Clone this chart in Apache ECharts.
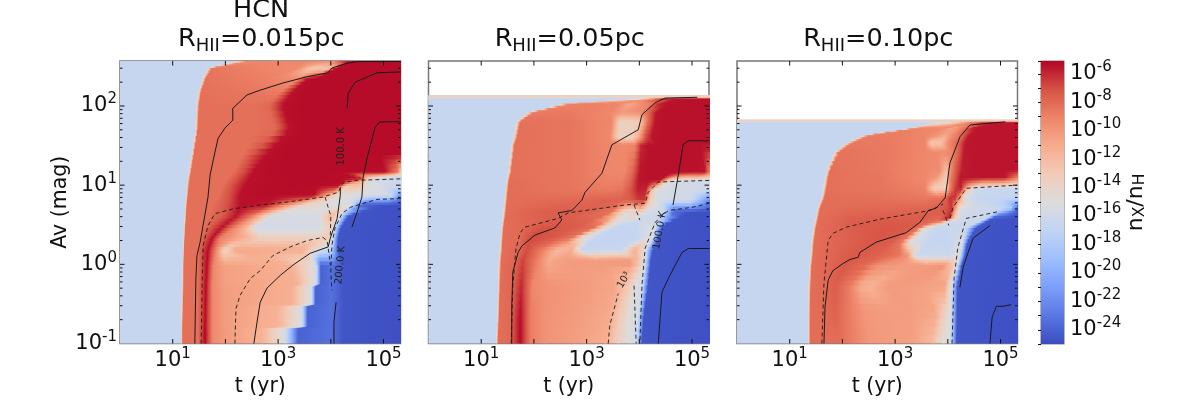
<!DOCTYPE html>
<html lang="en">
<head>
  <meta charset="UTF-8">
  <title>HCN</title>
  <script src="https://cdn.jsdelivr.net/npm/echarts@6/dist/echarts.min.js"></script>
  <style>body { margin: 0; background: #fff; } #app { width: 1196px; height: 407px; }</style>
</head>
<body>
  <div id="app"></div>
  <script>
    // every row: log10(Av), then node positions log10(t) and log10(nX/nH) at those nodes
    var p1Av = [2.57, 2.48, 2.35, 2.18, 2.01, 1.70, 1.38, 1.16, 1.09, 0.99, 0.87, 0.75, 0.62, 0.46, 0.33, 0.18, -0.01, -0.25, -0.28, -0.51, -0.53, -0.79, -0.81, -1]
    var p1T = [
      [0,2.18,2.47,3.42,4.08,4.27,4.40,4.52,4.63,4.75,4.86,4.97,5.16,5.33],
      [0,1.65,1.75,3.42,3.64,3.99,4.10,4.27,4.40,4.56,4.75,4.93,5.16,5.33],
      [0,1.56,1.63,2.85,3.38,3.57,3.76,3.99,4.18,4.37,4.65,4.93,5.16,5.33],
      [0,1.48,1.54,2.70,3.04,3.28,3.51,3.80,4.08,4.37,4.65,4.93,5.16,5.33],
      [0,1.44,1.50,2.56,2.81,3.09,3.42,3.80,4.08,4.37,4.65,4.93,5.16,5.33],
      [0,1.42,1.48,2.60,2.96,3.23,3.51,3.80,4.08,4.37,4.65,4.93,5.16,5.33],
      [0,1.35,1.40,2.33,2.51,2.77,3.13,3.51,3.89,4.27,4.65,4.93,5.16,5.33],
      [0,1.29,1.35,2.13,2.33,2.52,3.04,3.42,3.80,4.18,4.56,5.03,5.28,5.33],
      [0,1.27,1.33,2.05,2.24,2.47,3.23,3.80,4.27,4.59,4.71,4.84,5.03,5.33],
      [0,1.25,1.31,1.94,2.13,2.37,3.23,3.70,4.14,4.29,4.52,4.67,4.90,5.33],
      [0,1.25,1.29,1.86,2.09,2.28,2.94,3.70,3.95,4.14,4.37,4.84,5.16,5.33],
      [0,1.23,1.27,1.75,2.05,2.28,2.81,3.23,3.51,3.89,4.40,4.59,5.03,5.33],
      [0,1.22,1.26,1.67,1.94,2.22,2.51,2.70,2.94,3.76,3.99,4.18,4.35,5.33],
      [0,1.21,1.24,1.58,1.75,1.92,2.13,2.37,2.56,3.76,3.99,4.08,4.19,5.33],
      [0,1.20,1.23,1.52,1.63,1.75,1.90,2.28,2.70,3.76,3.95,4.04,4.14,5.33],
      [0,1.19,1.22,1.48,1.59,1.67,1.82,1.97,2.13,3.42,3.76,4.00,4.14,5.33],
      [0,1.18,1.21,1.48,1.58,1.65,1.78,1.99,3.23,3.72,3.81,4.02,4.23,5.33],
      [0,1.17,1.21,1.48,1.58,1.63,1.76,1.99,3.36,3.72,3.81,4.02,4.23,5.33],
      [0,1.17,1.21,1.48,1.58,1.63,1.76,1.99,3.26,3.63,3.71,4.02,4.23,5.33],
      [0,1.16,1.20,1.48,1.58,1.62,1.76,1.99,3.26,3.63,3.71,4.02,4.23,5.33],
      [0,1.16,1.20,1.48,1.58,1.62,1.76,1.99,3.00,3.45,3.56,4.02,4.23,5.33],
      [0,1.15,1.19,1.48,1.57,1.61,1.76,1.99,3.00,3.45,3.56,4.00,4.23,5.33],
      [0,1.15,1.19,1.48,1.57,1.61,1.76,1.99,2.70,3.13,3.38,4.00,4.23,5.33],
      [0,1.15,1.19,1.48,1.57,1.61,1.76,1.99,2.70,3.13,3.38,4.00,4.23,5.33]
    ]
    var p1V = [
      [-16.6,-16.6,-9.3,-9.2,-9.5,-5.4,-5.3,-5.3,-5.3,-5.3,-5.3,-5.3,-5.3,-5.3],
      [-16.6,-16.6,-8.5,-9.5,-13,-13,-5.4,-5.3,-5.3,-5.3,-5.3,-5.3,-5.3,-5.3],
      [-16.6,-16.6,-8.4,-9,-9.5,-5.4,-5.3,-5.3,-5.3,-5.3,-5.3,-5.3,-5.3,-5.3],
      [-16.6,-16.6,-8.3,-8.6,-8.8,-5.4,-5.3,-5.3,-5.3,-5.3,-5.3,-5.3,-5.3,-5.3],
      [-16.6,-16.6,-8.3,-8.3,-8,-5.4,-5.3,-5.3,-5.3,-5.3,-5.3,-5.3,-5.3,-5.3],
      [-16.6,-16.6,-8.3,-8.3,-8,-5.4,-5.3,-5.3,-5.3,-5.3,-5.3,-5.3,-5.3,-5.3],
      [-16.6,-16.6,-8.3,-8.3,-7,-5.4,-5.3,-5.3,-5.3,-5.3,-5.3,-5.3,-5.3,-5.3],
      [-16.6,-16.6,-8.3,-8.3,-7,-5.4,-5.3,-5.3,-5.3,-5.3,-5.3,-5.4,-9,-13],
      [-16.6,-16.6,-8.3,-8.3,-7,-5.4,-5.3,-5.3,-5.3,-5.4,-13,-15.5,-16.2,-16.5],
      [-16.6,-16.6,-8.3,-8.3,-7,-5.4,-5.3,-5.3,-5.4,-13,-12,-15,-15.5,-16.2],
      [-16.6,-16.6,-8.3,-8.3,-7,-5.4,-5.3,-5.4,-11,-15,-15.2,-15.6,-16,-22],
      [-16.6,-16.6,-8.3,-8.3,-7,-5.4,-5.6,-10.5,-14,-14.7,-15.5,-24.6,-24.8,-24.8],
      [-16.6,-16.6,-8.3,-8.3,-7.5,-5.5,-8.5,-12,-15.5,-15.5,-11.5,-15.5,-24.6,-24.8],
      [-16.6,-16.6,-8.3,-8.3,-7,-5.5,-8.7,-11.5,-15.8,-15.8,-13.5,-16,-24.6,-24.8],
      [-16.6,-16.6,-8.3,-8.3,-7,-5.4,-9,-10.8,-13.5,-13.5,-13,-16,-24.6,-24.8],
      [-16.6,-16.6,-8.3,-8.3,-6.5,-5.3,-9,-14,-10.8,-11,-15,-16.8,-24.6,-24.8],
      [-16.6,-16.6,-8.3,-8.3,-6.5,-5.2,-9.3,-10.5,-11.3,-15.5,-24,-23.3,-24.6,-24.8],
      [-16.6,-16.6,-8.3,-8.3,-6.5,-5.2,-9.3,-10.4,-11.3,-15.5,-24,-23.3,-24.6,-24.8],
      [-16.6,-16.6,-8.3,-8.3,-6.3,-5.2,-9.3,-10.3,-11.3,-15.5,-24,-23.3,-24.6,-24.8],
      [-16.6,-16.6,-8.3,-8.3,-6.3,-5.2,-9.3,-10.3,-11.3,-15.5,-24,-23.3,-24.6,-24.8],
      [-16.6,-16.6,-8.3,-8.3,-6.3,-5.2,-9.3,-10.3,-11.5,-15.5,-24,-23.3,-24.6,-24.8],
      [-16.6,-16.6,-8.3,-8.3,-6.3,-5.2,-9.3,-10.3,-11.5,-15.5,-24,-23.3,-24.6,-24.8],
      [-16.6,-16.6,-8.3,-8.3,-6.3,-5.1,-9.3,-10.2,-11.5,-15.5,-24,-23.3,-24.6,-24.8],
      [-16.6,-16.6,-8.3,-8.3,-6.3,-5.1,-9.3,-10.2,-11.5,-15.5,-24,-23.3,-24.6,-24.8]
    ]

    var p2Av = [2.14, 2.11, 2.09, 2.03, 1.92, 1.80, 1.60, 1.51, 1.16, 1.06, 0.94, 0.81, 0.66, 0.49, 0.33, 0.18, 0.05, -0.27, -0.65, -1]
    var p2T = [
      [0,3.82,4.11,4.20,4.30,4.39,4.49,4.62,4.77,4.87,4.96,5.06,5.15,5.33],
      [0,3.82,4.11,4.20,4.30,4.39,4.49,4.62,4.77,4.87,4.96,5.06,5.15,5.33],
      [0,3.82,4.11,4.20,4.30,4.39,4.49,4.62,4.77,4.87,4.96,5.06,5.15,5.33],
      [0,2.53,2.72,3.25,3.63,3.82,4.05,4.20,4.39,4.58,4.77,4.96,5.15,5.33],
      [0,1.87,2.00,2.69,3.44,3.67,3.86,4.01,4.17,4.32,4.58,4.87,5.15,5.33],
      [0,1.66,1.74,2.69,3.48,3.63,3.86,4.01,4.17,4.30,4.58,4.87,5.15,5.33],
      [0,1.60,1.68,2.69,3.44,3.60,3.86,3.98,4.11,4.24,4.58,4.87,5.15,5.33],
      [0,1.57,1.63,2.69,3.44,3.73,3.92,4.03,4.17,4.39,4.62,4.87,5.15,5.33],
      [0,1.50,1.57,2.69,3.44,3.73,3.86,4.01,4.17,4.58,4.87,5.06,5.25,5.33],
      [0,1.47,1.53,2.69,3.44,3.67,3.82,3.98,4.17,4.39,4.55,4.77,5.06,5.33],
      [0,1.45,1.51,2.69,3.35,3.67,3.82,3.98,4.13,4.24,4.36,4.58,4.96,5.33],
      [0,1.43,1.49,2.69,3.35,3.63,3.82,3.98,4.09,4.20,4.32,4.58,4.96,5.33],
      [0,1.41,1.47,2.21,3.07,3.48,3.67,3.82,3.98,4.17,4.49,4.68,4.96,5.33],
      [0,1.38,1.43,1.74,2.21,2.88,3.20,3.41,3.63,3.94,4.17,4.30,4.45,5.33],
      [0,1.36,1.41,1.74,1.93,2.40,2.69,2.88,3.16,3.94,4.13,4.24,4.36,5.33],
      [0,1.34,1.40,1.74,1.87,2.15,2.46,2.72,2.88,3.63,3.90,4.11,4.26,5.33],
      [0,1.32,1.38,1.64,1.79,2.08,2.27,2.59,3.25,3.82,3.98,4.11,4.22,5.33],
      [0,1.31,1.36,1.58,1.76,1.98,2.31,3.07,3.54,3.79,3.94,4.05,4.17,5.33],
      [0,1.30,1.34,1.55,1.74,1.93,2.21,2.88,3.44,3.67,3.86,3.98,4.09,5.33],
      [0,1.27,1.32,1.55,1.74,1.93,2.21,2.78,3.35,3.60,3.82,3.94,4.05,5.33]
    ]
    var p2V = [
      [-13.3,-13.3,-13.3,-13.3,-13.3,-13.3,-13.3,-13.3,-13.3,-13.3,-13.3,-13.3,-13.3,-13.3],
      [-13.8,-13.8,-13.8,-13.8,-13.8,-13.8,-13.8,-13.8,-13.8,-13.8,-13.8,-13.8,-13.8,-13.8],
      [-16.6,-16.6,-15,-11,-9.5,-7,-5.8,-5.4,-5.4,-5.4,-5.4,-5.4,-5.4,-5.4],
      [-16.6,-16.6,-9,-9,-9.2,-11,-9.5,-9,-5.6,-5.4,-5.4,-5.4,-5.4,-5.4],
      [-16.6,-16.6,-8.7,-8.7,-9.2,-10,-9.8,-9.5,-8,-5.5,-5.4,-5.4,-5.4,-5.4],
      [-16.6,-16.6,-8.3,-8.5,-9.3,-13.5,-13.5,-13,-8,-5.5,-5.4,-5.4,-5.4,-5.4],
      [-16.6,-16.6,-8.3,-8.5,-9.3,-13.5,-13.5,-11,-7,-5.5,-5.4,-5.4,-5.4,-5.4],
      [-16.6,-16.6,-8.3,-8.5,-9.2,-9.3,-9,-6,-5.4,-5.4,-5.4,-5.4,-5.4,-5.4],
      [-16.6,-16.6,-8.3,-8.5,-9.2,-9.2,-8,-5.5,-5.4,-5.4,-5.4,-5.4,-5.5,-9],
      [-16.6,-16.6,-8.2,-8.5,-9,-9,-8,-5.6,-5.4,-5.5,-14,-15.8,-15.8,-15.8],
      [-16.6,-16.6,-8.2,-8.5,-8.7,-8.5,-7.3,-5.7,-6,-13,-15.5,-15.8,-15.8,-16.3],
      [-16.6,-16.6,-8.2,-8,-7.7,-7.7,-7.5,-6.5,-6.3,-13,-15.5,-15.8,-15.8,-22],
      [-16.6,-16.6,-8.2,-7.5,-7.7,-8.5,-13.5,-15.5,-13,-15.7,-16.3,-24.6,-24.8,-24.8],
      [-16.6,-16.6,-8.2,-8,-7.2,-7.5,-8.2,-14,-16.7,-16.6,-15.5,-15,-24.6,-24.8],
      [-16.6,-16.6,-8.2,-8,-6.8,-7.5,-8.5,-14,-16.8,-16.7,-15.5,-15,-24.6,-24.8],
      [-16.6,-16.6,-8.2,-7.8,-7,-8.8,-12,-11,-16.6,-16.6,-11,-15,-24.6,-24.8],
      [-16.6,-16.6,-8.2,-7.8,-6.7,-9,-11,-10.2,-10.2,-9.8,-12,-15.5,-24.6,-24.8],
      [-16.6,-16.6,-8.2,-7.9,-6,-9.3,-9.8,-10.3,-10.8,-13,-15.3,-15.8,-24.6,-24.8],
      [-16.6,-16.6,-8.2,-8,-5.3,-8.7,-9.8,-10.3,-11,-13.5,-15.3,-15.8,-24.6,-24.8],
      [-16.6,-16.6,-8.2,-8,-5.2,-8.7,-9.8,-10.4,-11.2,-13.5,-15.3,-15.8,-24.6,-24.8]
    ]

    var p3Av = [1.83, 1.81, 1.79, 1.72, 1.63, 1.53, 1.42, 1.19, 1.09, 0.96, 0.84, 0.71, 0.58, 0.46, 0.27, 0.11, -0.01, -0.27, -0.58, -1]
    var p3T = [
      [0,3.66,4.04,4.23,4.42,4.61,4.71,4.80,4.90,4.99,5.09,5.18,5.24,5.33],
      [0,3.66,4.04,4.23,4.42,4.61,4.71,4.80,4.90,4.99,5.09,5.18,5.24,5.33],
      [0,3.66,4.04,4.23,4.42,4.61,4.71,4.80,4.90,4.99,5.09,5.18,5.24,5.33],
      [0,3.25,3.40,3.76,3.95,4.08,4.19,4.35,4.46,4.61,4.80,4.99,5.18,5.33],
      [0,2.37,2.52,3.09,3.57,3.76,3.95,4.08,4.27,4.40,4.61,4.80,5.05,5.33],
      [0,2.05,2.18,2.90,3.57,3.68,3.87,4.00,4.18,4.33,4.61,4.80,5.05,5.33],
      [0,1.84,1.94,2.90,3.57,3.76,3.95,4.08,4.18,4.31,4.61,4.80,5.05,5.33],
      [0,1.69,1.77,2.71,3.57,3.85,3.97,4.08,4.14,4.27,4.52,4.80,5.05,5.33],
      [0,1.66,1.73,2.71,3.57,3.78,3.97,4.04,4.14,4.23,4.52,4.80,5.09,5.33],
      [0,1.63,1.70,2.71,3.57,3.72,3.97,4.04,4.14,4.25,4.37,4.52,4.90,5.33],
      [0,1.59,1.66,2.71,3.57,3.85,3.97,4.04,4.14,4.21,4.31,4.52,4.90,5.33],
      [0,1.52,1.58,2.52,3.57,3.85,3.99,4.08,4.16,4.23,4.52,4.99,5.22,5.33],
      [0,1.48,1.54,2.14,3.09,3.57,3.85,4.02,4.14,4.27,4.57,4.73,4.84,5.33],
      [0,1.44,1.50,2.33,2.90,3.28,3.44,3.57,3.76,3.95,4.14,4.33,4.54,5.33],
      [0,1.40,1.46,1.95,2.52,2.90,3.09,3.28,3.66,4.04,4.19,4.27,4.37,5.33],
      [0,1.39,1.44,1.86,2.24,2.71,3.09,3.25,3.38,4.04,4.16,4.23,4.33,5.33],
      [0,1.37,1.42,1.77,2.05,2.43,2.71,3.19,3.66,3.95,4.08,4.18,4.27,5.33],
      [0,1.35,1.40,1.67,1.86,2.14,2.33,2.49,2.81,3.47,3.93,4.06,4.19,5.33],
      [0,1.34,1.39,1.67,1.86,2.14,2.43,2.71,3.28,3.76,3.95,4.06,4.18,5.33],
      [0,1.34,1.39,1.67,1.95,2.24,2.52,2.81,3.38,3.70,3.91,4.04,4.17,5.33]
    ]
    var p3V = [
      [-13.3,-13.3,-13.3,-13.3,-13.3,-13.3,-13.3,-13.3,-13.3,-13.3,-13.3,-13.3,-13.3,-13.3],
      [-13.8,-13.8,-13.8,-13.8,-13.8,-13.8,-13.8,-13.8,-13.8,-13.8,-13.8,-13.8,-13.8,-13.8],
      [-16.6,-16.6,-15,-12,-9,-7,-5.9,-5.7,-5.6,-5.5,-5.5,-5.5,-5.5,-5.5],
      [-16.6,-16.6,-8.9,-9.2,-9.5,-11,-9.5,-8,-5.6,-5.5,-5.5,-5.5,-5.5,-5.5],
      [-16.6,-16.6,-8.7,-8.8,-9.2,-9.4,-11,-9.5,-8,-5.6,-5.5,-5.5,-5.5,-5.5],
      [-16.6,-16.6,-8.6,-8.7,-9.2,-13,-12.5,-9.3,-8,-5.6,-5.5,-5.5,-5.5,-5.5],
      [-16.6,-16.6,-8.4,-8.7,-9.2,-9.3,-9.3,-9,-8,-5.6,-5.5,-5.5,-5.5,-5.5],
      [-16.6,-16.6,-8.3,-8.6,-9.3,-9.5,-12,-9,-7.5,-5.7,-5.5,-5.5,-5.5,-5.5],
      [-16.6,-16.6,-8.3,-8.5,-9.3,-10,-13.3,-9,-7.3,-5.6,-5.5,-5.5,-5.5,-9],
      [-16.6,-16.6,-8.3,-8.5,-9,-13.3,-13.5,-9,-6.5,-5.6,-12,-16,-16.5,-16.5],
      [-16.6,-16.6,-8.2,-8.3,-8.6,-8.4,-7.5,-6.2,-6.2,-9,-15.5,-16.5,-16.6,-16.6],
      [-16.6,-16.6,-8.2,-8,-7.9,-7.6,-7,-6.3,-11,-15.5,-16,-16.5,-18,-24.5],
      [-16.6,-16.6,-8.2,-7.6,-7.5,-7.6,-8,-5.8,-14,-16,-16,-16.8,-24.6,-24.8],
      [-16.6,-16.6,-8.2,-7.4,-7.2,-7.4,-8.5,-15,-16.6,-16.4,-16.6,-15.8,-24.6,-24.8],
      [-16.6,-16.6,-8.2,-7.8,-7.3,-7.5,-8.5,-15,-16.7,-16.7,-15.6,-15.5,-24.6,-24.8],
      [-16.6,-16.6,-8.2,-7.8,-7.3,-7.8,-8.5,-10,-16.3,-16.3,-15,-15.5,-24.6,-24.8],
      [-16.6,-16.6,-8.2,-7.8,-7.4,-8,-9.7,-10.2,-10.2,-9.9,-12.5,-15.5,-24.6,-24.8],
      [-16.6,-16.6,-8.2,-8,-7.5,-8.8,-11,-11.5,-10.2,-10.4,-10.5,-15,-24.6,-24.8],
      [-16.6,-16.6,-8.2,-8,-7.7,-8.8,-10,-10.2,-10.3,-10.8,-13.5,-15.3,-24.6,-24.8],
      [-16.6,-16.6,-8.2,-8.2,-8.2,-9,-10,-10.2,-10.5,-12,-15,-15.3,-24.6,-24.8]
    ]

    // contours as [log10 t, log10 Av]
    var p1Solid = [
      [[1.42,-1],[1.44,-.18],[1.46,.11],[1.52,.28],[1.61,.62],[1.67,.85],[1.71,1.13],[1.77,1.32],[1.86,1.59],[1.99,1.72],[2.14,1.82],[2.14,1.97],[2.41,2.14],[2.66,2.2],[3.09,2.29],[3.55,2.37],[3.95,2.42],[4.02,2.48],[4.31,2.54],[4.5,2.56],[5.33,2.56]],
      [[4.31,1.97],[4.33,2.16],[4.46,2.3],[4.88,2.42],[5.33,2.43]],
      [[4.18,.97],[4.18,.87],[4.12,.58],[3.99,.33],[3.95,.22],[3.61,.14],[3.28,-.01],[3.04,-.14],[2.79,-.3],[2.66,-.48],[2.6,-.73],[2.54,-1]],
      [[5.33,1.8],[4.93,1.8],[4.84,1.73],[4.69,1.35],[4.61,1.09],[4.59,.85],[4.5,.66],[4.4,.47]],
      [[4.1,-.48],[4.06,-.73],[4.06,-1]]
    ]
    var p1Dashed = [
      [[1.54,-1],[1.56,-.18],[1.58,.24],[1.67,.49],[1.8,.64],[2.14,.7],[2.66,.75],[3.09,.78],[3.85,.85],[4.14,.91],[4.23,1.03],[4.46,1.06],[5.33,1.08]],
      [[2.18,-1],[2.2,-.56],[2.28,-.39],[2.47,-.18],[2.66,-.08],[2.9,.11],[3.23,.22],[3.55,.3],[3.85,.34],[3.93,.3],[3.97,.11],[3.99,-.01]],
      [[5.33,.83],[4.88,.82],[4.61,.77],[4.37,.72],[4.21,.64],[4.08,.46],[4.02,.24],[4,-.1],[4.02,-.33]],
      [[3.89,.85],[4,.61],[3.99,.34]]
    ]
    var p2Solid = [
      [[1.58,-1],[1.58,-.52],[1.6,-.1],[1.7,.15],[1.77,.23],[2.02,.37],[2.4,.46],[2.53,.56],[2.46,.65],[2.72,.68],[2.91,.81],[2.97,.91],[3.29,1.15],[3.39,1.34],[3.48,1.51],[3.98,1.7],[4.05,1.89],[4.3,2.04],[4.49,2.1],[5.1,2.11]],
      [[5.33,1.56],[4.93,1.56],[4.83,1.51],[4.74,1.13],[4.64,.75]],
      [[5.33,.2],[4.93,.2],[4.81,.15],[4.58,-.14],[4.43,-.35],[4.36,-1]]
    ]
    var p2Dashed = [
      [[1.57,-1],[1.6,-.27],[1.66,.2],[1.74,.4],[1.83,.47],[2.46,.58],[2.65,.65],[3.73,.75],[4.11,.77],[4.17,.91],[4.36,1.04],[5.33,1.06]],
      [[3.9,.75],[4.01,.56]],
      [[3.41,-1],[3.44,-.77],[3.6,-.37]],
      [[3.9,-.27],[3.94,-1]],
      [[5.33,.77],[5,.72],[4.55,.68],[4.3,.53],[4.11,.2],[4.05,-.27],[4.01,-1]]
    ]
    var p3Solid = [
      [[1.65,-1],[1.67,-.54],[1.73,-.2],[1.82,-.08],[2.01,.01],[2.14,.06],[2.3,.09],[2.33,.15],[2.64,.28],[3.21,.4],[3.47,.53],[3.63,.68],[3.78,.71],[3.95,.84],[4.04,1.28],[4.23,1.61],[4.42,1.76],[5.09,1.8]],
      [[4.23,-.29],[4.29,-.04],[4.38,.14],[4.48,.33],[4.8,.49]],
      [[4.8,-1],[4.84,-.67],[4.92,-.53],[5.05,-.53],[5.2,-.51]]
    ]
    var p3Dashed = [
      [[1.61,-1],[1.65,-.24],[1.73,.3],[1.82,.39],[2.07,.47],[2.71,.57],[3.66,.68],[3.91,.76]],
      [[3.91,.68],[4.02,.49]],
      [[4.04,.58],[4.1,.72],[4.35,.96],[5.31,1]],
      [[4.08,-1],[4.12,-.17],[4.19,.21],[4.35,.58],[4.99,.67]]
    ]
    var p1Labels = [[4.21, 1.49, '100.0 K', 90], [4.18, -0.01, '200.0 K', 85]]
    var p2Labels = [[4.39, 0.43, '100.0 K', 80], [3.71, -0.2, '10³', 60]]
    var p3Labels = []

    var titles = ['R{b|HII}=0.015pc', 'R{b|HII}=0.05pc', 'R{b|HII}=0.10pc']
    var xLabelExp = [1, 3, 5]
    var yLabelExp = [-1, 0, 1, 2]
    var barLabelExp = [-6, -8, -10, -12, -14, -16, -18, -20, -22, -24]
    var xMajor = [10, 100, 1000, 10000, 100000]
    var yMajor = [1, 10, 100]
    var yMinor = [.2, .3, .4, .5, .6, .7, .8, .9, 2, 3, 4, 5, 6, 7, 8, 9, 20, 30, 40, 50, 60, 70, 80, 90, 200, 300]
    var coolwarm = ['#3b4cc0', '#5977e3', '#7b9ff9', '#9ebeff', '#c0d4f5', '#dddcdc', '#f2cbb7', '#f7ac8e', '#ee8468', '#d65244', '#b40426']

    var vMin = -25, vMax = -5.1, xMax = 2.1e5, yMax = 370
    var lefts = [120, 428.5, 737]
    var gridW = 280.5, gridTop = 61, gridH = 282.5
    var font = 'DejaVu Sans'

    function rgb(hex) {
      return [parseInt(hex.slice(1, 3), 16), parseInt(hex.slice(3, 5), 16), parseInt(hex.slice(5, 7), 16)]
    }
    var cmapRgb = coolwarm.map(rgb)
    function cmap(v) {
      var t = Math.max(0, Math.min(1, (v - vMin) / (vMax - vMin))) * (cmapRgb.length - 1)
      var i = Math.min(Math.floor(t), cmapRgb.length - 2), f = t - i
      var a = cmapRgb[i], b = cmapRgb[i + 1]
      return 'rgb(' + Math.round(a[0] + (b[0] - a[0]) * f) + ',' + Math.round(a[1] + (b[1] - a[1]) * f) + ',' + Math.round(a[2] + (b[2] - a[2]) * f) + ')'
    }
    function lerp(a, b, f) { return a + (b - a) * f }
    function pow(e) { return Math.pow(10, e) }

    // gouraud style shading between neighbouring rows
    function heatSeries(g, avs, ts, vs) {
      var data = []
      for (var i = 0; i < avs.length - 1; i++) data.push([10, pow(avs[i])])
      return {
        type: 'custom', xAxisIndex: g, yAxisIndex: g, z: 1, silent: true, clip: true, data: data,
        encode: { x: 0, y: 1 },
        renderItem: function (params, api) {
          var i = params.dataIndex, kids = [], S = 4
          var top = ts[i].map(function (t) { return api.coord([pow(t), pow(avs[i])]) })
          var bot = ts[i + 1].map(function (t) { return api.coord([pow(t), pow(avs[i + 1])]) })
          for (var j = 0; j < top.length - 1; j++) {
            for (var k = 0; k < S; k++) {
              var f0 = k / S, f1 = (k + 1) / S, fm = (k + .5) / S
              var xa = lerp(top[j][0], bot[j][0], f0), xb = lerp(top[j + 1][0], bot[j + 1][0], f0)
              var xc = lerp(top[j + 1][0], bot[j + 1][0], f1), xd = lerp(top[j][0], bot[j][0], f1)
              var y0 = lerp(top[j][1], bot[j][1], f0), y1 = lerp(top[j][1], bot[j][1], f1) + 1
              var vl = lerp(vs[i][j], vs[i + 1][j], fm), vr = lerp(vs[i][j + 1], vs[i + 1][j + 1], fm)
              var stops = []
              for (var q = 0; q <= 5; q++) stops.push({ offset: q / 5, color: cmap(lerp(vl, vr, q / 5)) })
              var gx0 = (xa + xd) / 2, gx1 = Math.max((xb + xc) / 2, gx0 + .1)
              kids.push({
                type: 'polygon',
                shape: { points: [[xa, y0], [xb + 1, y0], [xc + 1, y1], [xd, y1]] },
                style: { fill: new echarts.graphic.LinearGradient(gx0, y0, gx1, y0, stops, true) }
              })
            }
          }
          return { type: 'group', children: kids }
        }
      }
    }

    function lineSeries(g, pts, dashed) {
      return {
        type: 'line', xAxisIndex: g, yAxisIndex: g, z: 2, silent: true, showSymbol: false, clip: true,
        data: pts.map(function (p) { return [pow(p[0]), pow(p[1])] }),
        lineStyle: { color: '#1a1a1a', width: dashed ? .9 : 1, type: dashed ? [4, 3] : 'solid' }
      }
    }

    function textSeries(g, labels) {
      return {
        type: 'custom', xAxisIndex: g, yAxisIndex: g, z: 3, silent: true,
        data: labels.map(function (l) { return [pow(l[0]), pow(l[1])] }),
        encode: { x: 0, y: 1 },
        renderItem: function (params, api) {
          var l = labels[params.dataIndex], p = api.coord([pow(l[0]), pow(l[1])])
          return {
            type: 'text', x: p[0], y: p[1], rotation: l[3] * Math.PI / 180,
            style: { text: l[2], fontFamily: font, fontSize: 10, fill: '#222', align: 'center', verticalAlign: 'middle' }
          }
        }
      }
    }

    // mpl style ticks pointing in, on all four sides
    function tickSeries(g) {
      return {
        type: 'custom', xAxisIndex: g, yAxisIndex: g, z: 4, silent: true, clip: false,
        data: [[10, 1]], encode: { x: 0, y: 1 },
        renderItem: function (params, api) {
          var kids = []
          function seg(x1, y1, x2, y2) {
            kids.push({ type: 'line', shape: { x1: x1, y1: y1, x2: x2, y2: y2 }, style: { stroke: '#111', lineWidth: 1 } })
          }
          var xl = api.coord([1, 1])[0], xr = api.coord([xMax, 1])[0]
          var yb = api.coord([1, .1])[1], yt = api.coord([1, yMax])[1]
          xMajor.forEach(function (t) {
            var x = api.coord([t, 1])[0]
            seg(x, yb, x, yb - 4.5); seg(x, yt, x, yt + 4.5)
          })
          yMajor.forEach(function (a) {
            var y = api.coord([1, a])[1]
            seg(xl, y, xl + 4.5, y); seg(xr, y, xr - 4.5, y)
          })
          yMinor.forEach(function (a) {
            var y = api.coord([1, a])[1]
            seg(xl, y, xl + 2.5, y); seg(xr, y, xr - 2.5, y)
          })
          return { type: 'group', children: kids }
        }
      }
    }

    var supRich = { s: { fontSize: 15, fontFamily: font, color: '#111', verticalAlign: 'top', lineHeight: 22 }, n: { fontSize: 21, fontFamily: font, color: '#111', lineHeight: 28 } }
    function expLabel(list) {
      return function (v) {
        var e = Math.round(Math.log10(v))
        if (Math.abs(Math.log10(v) - e) > .01 || list.indexOf(e) < 0) return ''
        return '{n|10}{s|' + e + '}'
      }
    }

    var grids = [], xAxes = [], yAxes = [], series = []
    var allRows = [[p1Av, p1T, p1V, p1Solid, p1Dashed, p1Labels], [p2Av, p2T, p2V, p2Solid, p2Dashed, p2Labels], [p3Av, p3T, p3V, p3Solid, p3Dashed, p3Labels]]
    allRows.forEach(function (r, g) {
      grids.push({ left: lefts[g], top: gridTop, width: gridW, height: gridH, show: true, borderColor: '#777', borderWidth: 1.5, backgroundColor: 'transparent' })
      xAxes.push({
        type: 'log', gridIndex: g, min: 1, max: xMax, logBase: 10, interval: 1,
        name: 't (yr)', nameLocation: 'middle', nameGap: 32, nameTextStyle: { fontFamily: font, fontSize: 20.5, color: '#111' },
        axisLine: { show: false }, axisTick: { show: false }, splitLine: { show: false }, minorTick: { show: false },
        axisLabel: { show: true, margin: 3, interval: 0, hideOverlap: false, formatter: expLabel(xLabelExp), rich: supRich }
      })
      yAxes.push({
        type: 'log', gridIndex: g, min: .1, max: yMax, logBase: 10, interval: 1,
        name: g === 0 ? 'Av (mag)' : '', nameLocation: 'middle', nameGap: 46, nameTextStyle: { fontFamily: font, fontSize: 20.5, color: '#111' },
        axisLine: { show: false }, axisTick: { show: false }, splitLine: { show: false }, minorTick: { show: false },
        axisLabel: { show: g === 0, margin: 3, interval: 0, hideOverlap: false, formatter: expLabel(yLabelExp), rich: supRich }
      })
      series.push(heatSeries(g, r[0], r[1], r[2]))
      r[3].forEach(function (p) { series.push(lineSeries(g, p, false)) })
      r[4].forEach(function (p) { series.push(lineSeries(g, p, true)) })
      if (r[5].length) series.push(textSeries(g, r[5]))
      series.push(tickSeries(g))
    })

    // colorbar
    grids.push({ left: 1041, top: gridTop, width: 23, height: gridH + .5, show: true, borderColor: '#888', borderWidth: 1.2, backgroundColor: 'transparent' })
    xAxes.push({ type: 'value', gridIndex: 3, min: 0, max: 1, show: false })
    yAxes.push({
      type: 'value', gridIndex: 3, position: 'right', min: vMin, max: vMax, interval: 1,
      name: '{n|n}{b|X}{n|/n}{b|H}', nameLocation: 'middle', nameRotate: 90, nameGap: 57,
      nameTextStyle: { rich: { n: { fontSize: 22, fontFamily: font, color: '#111' }, b: { fontSize: 15.5, fontFamily: font, color: '#111', verticalAlign: 'bottom', lineHeight: 24 } } },
      axisLine: { show: false }, splitLine: { show: false },
      axisTick: { show: true, inside: true, length: 3, lineStyle: { color: '#111', width: 1 } },
      axisLabel: {
        show: true, margin: 6, interval: 0, hideOverlap: false, rich: supRich,
        formatter: function (v) { return barLabelExp.indexOf(v) >= 0 ? '{n|10}{s|' + v + '}' : '' }
      }
    })
    series.push({
      type: 'custom', xAxisIndex: 3, yAxisIndex: 3, z: 1, silent: true, data: [[0, vMin]], encode: { x: 0, y: 1 },
      renderItem: function (params, api) {
        var a = api.coord([0, vMin]), b = api.coord([1, vMax])
        var stops = coolwarm.map(function (c, i) { return { offset: i / (coolwarm.length - 1), color: c } })
        return {
          type: 'rect', shape: { x: a[0], y: b[1], width: b[0] - a[0], height: a[1] - b[1] },
          style: { fill: new echarts.graphic.LinearGradient(0, a[1], 0, b[1], stops, true) }
        }
      }
    })

    var titleStyle = { fontFamily: font, fontSize: 25.5, fontWeight: 'normal', color: '#111', rich: { b: { fontFamily: font, fontSize: 18, color: '#111', verticalAlign: 'bottom', lineHeight: 31 } } }
    var titleItems = [{ text: 'HCN', left: 256, top: -8, textAlign: 'center', textStyle: titleStyle }]
    titles.forEach(function (t, i) {
      titleItems.push({ text: t, left: lefts[i] + gridW / 2 - 4, top: 19, textAlign: 'center', textStyle: titleStyle })
    })

    var chart = echarts.init(document.querySelector('#app'), null, { renderer: 'canvas' })
    chart.setOption({
      animation: false, backgroundColor: '#fff', title: titleItems,
      grid: grids, xAxis: xAxes, yAxis: yAxes, series: series
    })
  </script>
</body>
</html>
